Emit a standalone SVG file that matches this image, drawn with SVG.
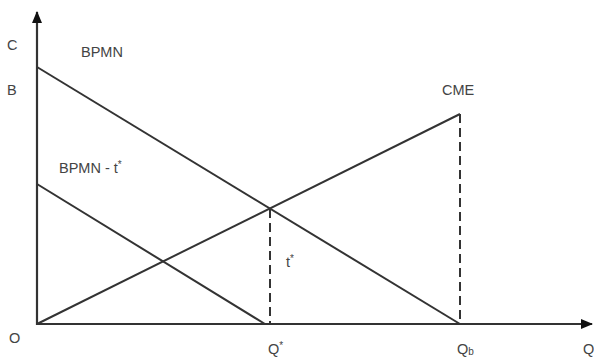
<svg xmlns="http://www.w3.org/2000/svg" width="594" height="358" viewBox="0 0 594 358">
<style>
  .ln { stroke: #333; stroke-width: 2; fill: none; }
  .ax { stroke: #333; stroke-width: 2.2; fill: none; }
  .dash { stroke: #333; stroke-width: 2; fill: none; stroke-dasharray: 9 5; }
  text { font-family: "Liberation Sans", Arial, sans-serif; font-size: 14.5px; fill: #444; }
  .sup { font-size: 10px; }
</style>
<defs>
  <marker id="arr" viewBox="0 0 12 10" refX="11" refY="5" markerWidth="12" markerHeight="10" markerUnits="userSpaceOnUse" orient="auto">
    <path d="M0,0 L12,5 L0,10 Z" fill="#111"/>
  </marker>
</defs>
<rect width="594" height="358" fill="#fff"/>
<g id="connectors">
  <line class="ax" x1="37" y1="325" x2="37" y2="12" marker-end="url(#arr)"/>
  <line class="ax" x1="36" y1="324" x2="592" y2="324" marker-end="url(#arr)"/>
  <line id="bpmn" class="ln" x1="37" y1="67" x2="460" y2="324"/>
  <line id="bpmn-t" class="ln" x1="37" y1="184" x2="265" y2="324"/>
  <line id="cme" class="ln" x1="37" y1="324" x2="460" y2="114"/>
  <line class="dash" x1="270" y1="209" x2="270" y2="324"/>
  <line class="dash" x1="460" y1="114" x2="460" y2="324"/>
</g>
<g id="labels">
  <text x="7" y="50">C</text>
  <text x="7" y="95">B</text>
  <text x="81" y="57">BPMN</text>
  <text x="59" y="173">BPMN - t<tspan class="sup" dy="-5">*</tspan></text>
  <text x="442" y="95">CME</text>
  <text x="286" y="267">t<tspan class="sup" dy="-5">*</tspan></text>
  <text x="9" y="343">O</text>
  <text x="268" y="354">Q<tspan class="sup" dy="-5">*</tspan></text>
  <text x="457" y="354">Q<tspan class="sup" dy="1">b</tspan></text>
  <text x="583" y="354">Q</text>
</g>
</svg>
